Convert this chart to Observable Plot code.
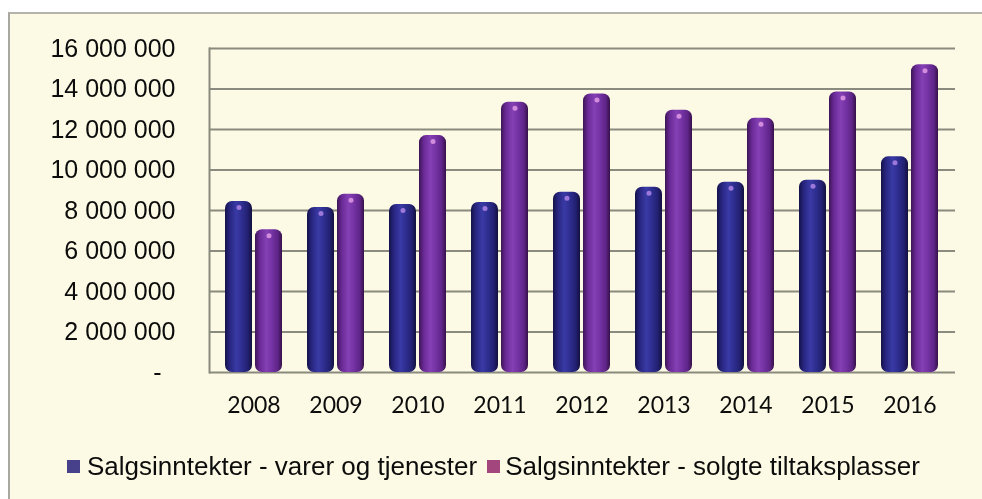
<!DOCTYPE html>
<html><head><meta charset="utf-8">
<script src="https://cdn.jsdelivr.net/npm/d3@7"></script>
<script src="https://cdn.jsdelivr.net/npm/@observablehq/plot@0.6"></script>
<style>
html,body{margin:0;padding:0;background:#fff;width:982px;height:499px;overflow:hidden;}
#frame{position:fixed;left:8px;top:12px;right:-40px;bottom:-40px;background:#fcfae4;border-left:2px solid #a8a8a0;border-top:2px solid #b4b4ac;}
#chart{position:absolute;left:0;top:0;}
#legend{position:absolute;left:67px;top:451px;font-family:"Liberation Sans",Arial,sans-serif;font-size:26px;color:#0c0c0c;display:flex;align-items:center;white-space:nowrap;}
.sw{display:inline-block;width:13px;height:13px;margin-right:7px;}
</style></head><body>
<div id="frame"></div>
<div id="chart"></div>
<div id="legend"></div>
<script>
const years = ["2008","2009","2010","2011","2012","2013","2014","2015","2016"];
const seriesNames = ["Salgsinntekter - varer og tjenester", "Salgsinntekter - solgte tiltaksplasser"];
const varer = [8450000, 8150000, 8300000, 8400000, 8900000, 9150000, 9400000, 9500000, 10650000];
const plasser = [7050000, 8800000, 11700000, 13350000, 13750000, 12950000, 12550000, 13850000, 15200000];
const yTicks = [0, 2000000, 4000000, 6000000, 8000000, 10000000, 12000000, 14000000, 16000000];
const legendColors = ["#47408a", "#a4467e"];

const dataA = years.map((y, i) => ({year: y, value: varer[i]}));
const dataB = years.map((y, i) => ({year: y, value: plasser[i]}));

const fmt = d => d === 0 ? "-\u00a0\u00a0" : d3.format(",")(d).replace(/,/g, " ");

const svg = Plot.plot({
  width: 982,
  height: 430,
  marginLeft: 209,
  marginRight: 27,
  marginTop: 48,
  marginBottom: 58,
  style: {background: "transparent", color: "#0c0c0c", overflow: "visible"},
  x: {domain: years, paddingInner: 0.3, paddingOuter: 0.15, label: null},
  y: {domain: [0, 16000000], label: null},
  marks: [
    Plot.ruleY(yTicks, {stroke: "#8a8a7e", strokeWidth: 2}),
    Plot.frame({anchor: "left", stroke: "#8a8a7e", strokeWidth: 2}),
    Plot.barY(dataA, {x: "year", y: "value", fill: "url(#cylA)", insetRight: 30, rx: 7}),
    Plot.barY(dataB, {x: "year", y: "value", fill: "url(#cylB)", insetLeft: 30, rx: 7}),
    Plot.dot(dataA, {x: "year", y: "value", dx: -15, dy: 6, r: 2.5, fill: "#b58ae8", fillOpacity: 0.8}),
    Plot.dot(dataB, {x: "year", y: "value", dx: 15, dy: 6, r: 2.5, fill: "#e8a0e8", fillOpacity: 0.8}),
    Plot.axisY({ticks: yTicks, tickSize: 0, tickPadding: 34, tickFormat: fmt, fontSize: 25, fontFamily: "'Liberation Sans', Arial, sans-serif", label: null}),
    Plot.axisX({tickSize: 0, tickPadding: 24, fontSize: 23, fontFamily: "Lato, sans-serif", label: null})
  ]
});

const defs = d3.select(svg).insert("defs", ":first-child");
function cyl(id, stops) {
  const g = defs.append("linearGradient").attr("id", id).attr("x1", "0").attr("x2", "1").attr("y1", "0").attr("y2", "0");
  stops.forEach(([o, c]) => g.append("stop").attr("offset", o).attr("stop-color", c));
}
cyl("cylA", [["0", "#14124a"], ["0.18", "#282680"], ["0.42", "#3a3aa6"], ["0.62", "#2e2e90"], ["0.85", "#222070"], ["1", "#12103e"]]);
cyl("cylB", [["0", "#3e1456"], ["0.18", "#6a2a96"], ["0.42", "#8440b4"], ["0.62", "#7533a4"], ["0.85", "#5e2486"], ["1", "#361048"]]);

document.getElementById("chart").appendChild(svg);

const legend = document.getElementById("legend");
seriesNames.forEach((name, i) => {
  const item = document.createElement("span");
  item.style.display = "inline-flex";
  item.style.alignItems = "center";
  item.style.marginRight = i === 0 ? "10px" : "0";
  const sw = document.createElement("span");
  sw.className = "sw";
  sw.style.background = legendColors[i];
  if (i === 1) sw.style.marginRight = "5px";
  const t = document.createElement("span");
  t.textContent = name;
  item.appendChild(sw);
  item.appendChild(t);
  legend.appendChild(item);
});
</script>
</body></html>
